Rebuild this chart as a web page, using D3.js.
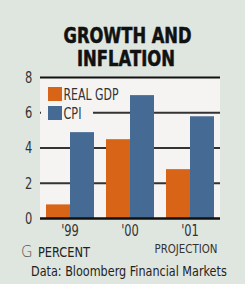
<!DOCTYPE html>
<html>
<head>
<meta charset="utf-8">
<script src="https://cdn.jsdelivr.net/npm/d3@7"></script>
<style>
  body { margin: 0; background: #dfe6df; }
  svg { display: block; }
</style>
</head>
<body>
<div id="chart-area"></div>
<script>
const years = ["'99", "'00", "'01"];
const realGdp = [0.8, 4.5, 2.8];
const cpi = [4.9, 7.0, 5.8];
const yTicks = [0, 2, 4, 6, 8];
const seriesNames = ["REAL GDP", "CPI"];

const W = 245, H = 284;
const font = "'DejaVu Sans Condensed', 'DejaVu Sans', sans-serif";
const orange = "#d86418", blue = "#456a93";

const svg = d3.select("#chart-area").append("svg")
    .attr("width", W)
    .attr("height", H);

svg.append("rect").attr("width", W).attr("height", H).attr("fill", "#dfe6df");

// plot box
const plotLeft = 40, plotRight = 220, plotTop = 77.5, plotBottom = 218.5;

const x = d3.scaleBand().domain(years).range([plotLeft, plotRight])
    .paddingInner(0.2).paddingOuter(0.1);
const y = d3.scaleLinear().domain([0, 8]).range([plotBottom, plotTop]);

svg.append("rect")
    .attr("x", plotLeft).attr("y", plotTop)
    .attr("width", plotRight - plotLeft).attr("height", plotBottom - plotTop)
    .attr("fill", "#f5f4f2");

// squeeze a text to a given width
function fit(sel, w) {
  return sel.attr("textLength", w).attr("lengthAdjust", "spacingAndGlyphs");
}

// title
const title = svg.append("g")
    .attr("font-family", "'DejaVu Sans', sans-serif")
    .attr("font-weight", "bold")
    .attr("font-size", 22)
    .attr("fill", "#111")
    .attr("stroke", "#111")
    .attr("stroke-width", 0.6)
    .attr("text-anchor", "middle");
fit(title.append("text").attr("x", 127.5).attr("y", 43).text("GROWTH AND"), 128);
fit(title.append("text").attr("x", 126).attr("y", 66).text("INFLATION"), 98);

// gridlines
svg.append("g")
  .selectAll("line")
  .data(yTicks.filter(d => d > 0 && d < 8))
  .join("line")
    .attr("x1", plotLeft).attr("x2", plotRight)
    .attr("y1", d => y(d)).attr("y2", d => y(d))
    .attr("stroke", "#333").attr("stroke-width", 2);

// bars
const groups = svg.append("g")
  .selectAll("g")
  .data(years)
  .join("g")
    .attr("transform", d => `translate(${x(d)},0)`);

const bw = x.bandwidth() / 2;
groups.append("rect")
    .attr("x", 0)
    .attr("width", bw)
    .attr("y", (d, i) => y(realGdp[i]))
    .attr("height", (d, i) => y(0) - y(realGdp[i]))
    .attr("fill", orange);
groups.append("rect")
    .attr("x", bw)
    .attr("width", bw)
    .attr("y", (d, i) => y(cpi[i]))
    .attr("height", (d, i) => y(0) - y(cpi[i]))
    .attr("fill", blue);

// top and base lines
[8, 0].forEach(v => {
  svg.append("line")
    .attr("x1", plotLeft).attr("x2", plotRight)
    .attr("y1", y(v)).attr("y2", y(v))
    .attr("stroke", "#111").attr("stroke-width", v === 0 ? 2.5 : 2);
});

// y axis labels
const yAxis = d3.axisLeft(y).tickValues(yTicks).tickSize(0).tickPadding(9);
const ya = svg.append("g").attr("transform", `translate(${plotLeft},0)`).call(yAxis);
ya.select(".domain").remove();
ya.selectAll("text")
    .attr("font-family", font)
    .attr("font-size", 15)
    .attr("fill", "#333")
    .attr("transform", "scale(0.85,1)");

// legend
const legend = svg.append("g");
legend.append("rect")
    .attr("x", plotLeft + 1).attr("y", plotTop + 3)
    .attr("width", 52).attr("height", 44)
    .attr("fill", "#f5f4f2");
const lg = legend.selectAll("g")
  .data(seriesNames)
  .join("g")
    .attr("transform", (d, i) => `translate(48,${87 + i * 19})`);
lg.append("rect")
    .attr("width", 14).attr("height", 14)
    .attr("fill", (d, i) => i === 0 ? orange : blue);
lg.append("text")
    .attr("x", 15.5).attr("y", 12.5)
    .attr("font-family", font)
    .attr("font-size", 15)
    .attr("fill", "#333")
    .attr("textLength", (d, i) => i === 0 ? 55 : 18)
    .attr("lengthAdjust", "spacingAndGlyphs")
    .text(d => d);

// x labels
const xAxis = d3.axisBottom(x).tickSize(0).tickPadding(7);
const xa = svg.append("g").attr("transform", `translate(0,${plotBottom})`).call(xAxis);
xa.select(".domain").remove();
xa.selectAll("text")
    .attr("font-family", font)
    .attr("font-size", 15)
    .attr("fill", "#333")
    .attr("transform", "scale(0.85,1)");

fit(svg.append("text")
    .attr("x", x("'01") + x.bandwidth() / 2 - 4).attr("y", 253)
    .attr("text-anchor", "middle")
    .attr("font-family", font)
    .attr("font-size", 13)
    .attr("fill", "#333")
    .text("PROJECTION"), 63);

svg.append("text")
    .attr("x", 21).attr("y", 257)
    .attr("font-family", "'DejaVu Sans', sans-serif")
    .attr("font-weight", 200)
    .attr("font-size", 15)
    .attr("fill", "#555")
    .text("G");
fit(svg.append("text")
    .attr("x", 38).attr("y", 257)
    .attr("font-family", font)
    .attr("font-size", 14)
    .attr("fill", "#222")
    .text("PERCENT"), 52);

// source line, squeezed horizontally to the reference width
const src = svg.append("text")
    .attr("font-family", font)
    .attr("font-size", 14)
    .attr("fill", "#222")
    .text("Data: Bloomberg Financial Markets");
const srcW = src.node().getComputedTextLength();
src.attr("transform", `translate(31,276) scale(${196 / srcW},1)`);
</script>
</body>
</html>
